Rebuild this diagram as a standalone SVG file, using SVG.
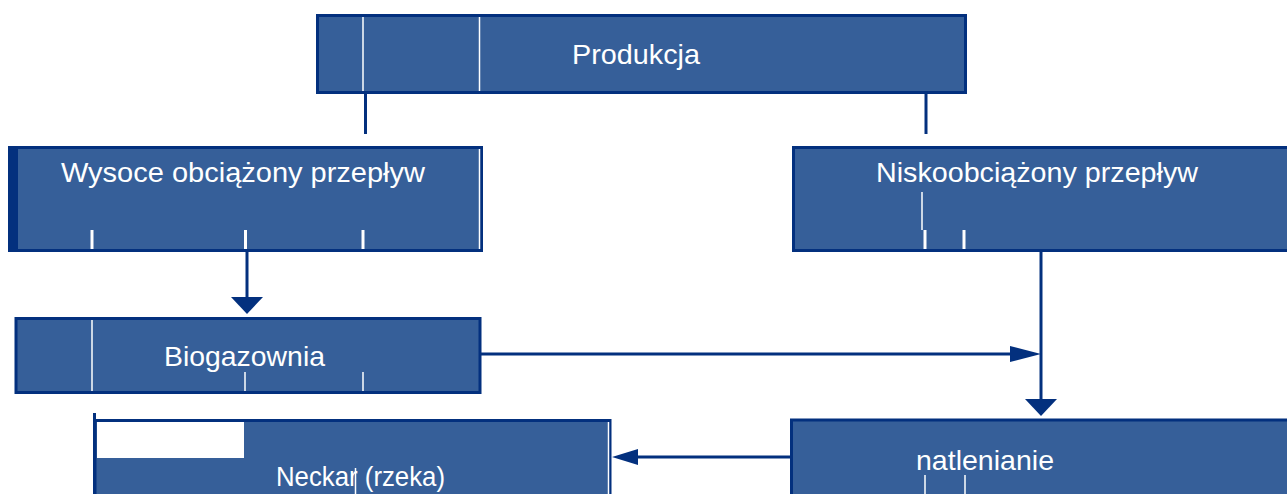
<svg xmlns="http://www.w3.org/2000/svg" width="1287" height="494" viewBox="0 0 1287 494">
<style>
.box{fill:#365F99;stroke:#03307E;stroke-width:3}
.wl{stroke:#FFFFFF;stroke-width:1.5}
.wt{stroke:#FFFFFF;stroke-width:3}
.con{stroke:#03307E;stroke-width:3;fill:none}
.head{fill:#03307E}
.lbl{font-family:"Liberation Sans",Arial,sans-serif;font-size:28px;fill:#FFFFFF}
</style>
<rect width="1287" height="494" fill="#FFFFFF"/>
<g id="node-produkcja">
<rect class="box" x="317.5" y="15.5" width="648" height="77"/>
<line class="wl" x1="363" y1="17" x2="363" y2="91"/>
<line class="wl" x1="479.5" y1="17" x2="479.5" y2="91"/>
<text class="lbl" x="572" y="64" textLength="128" lengthAdjust="spacingAndGlyphs">Produkcja</text>
</g>
<g id="node-wysoce">
<rect class="box" x="9.5" y="147.5" width="472" height="103"/>
<rect x="8" y="147" width="10" height="105" fill="#03307E"/>
<line class="wl" x1="479.5" y1="149" x2="479.5" y2="249"/>
<line class="wt" x1="92" y1="230" x2="92" y2="249"/>
<line class="wt" x1="245.5" y1="230" x2="245.5" y2="249"/>
<line class="wt" x1="363" y1="230" x2="363" y2="249"/>
<text class="lbl" x="61" y="182" textLength="364" lengthAdjust="spacingAndGlyphs">Wysoce obciążony przepływ</text>
</g>
<g id="node-nisko">
<rect class="box" x="793.5" y="147.5" width="500" height="103"/>
<line class="wl" x1="922" y1="192" x2="922" y2="230"/>
<line class="wt" x1="925" y1="230" x2="925" y2="249"/>
<line class="wt" x1="964" y1="230" x2="964" y2="249"/>
<text class="lbl" x="876" y="182" textLength="322" lengthAdjust="spacingAndGlyphs">Niskoobciążony przepływ</text>
</g>
<g id="node-biogazownia">
<rect class="box" x="16" y="318.5" width="464" height="74"/>
<line class="wl" x1="92" y1="320" x2="92" y2="391"/>
<line class="wl" x1="245" y1="372" x2="245" y2="391"/>
<line class="wl" x1="363" y1="372" x2="363" y2="391"/>
<text class="lbl" x="164" y="366" textLength="161" lengthAdjust="spacingAndGlyphs">Biogazownia</text>
</g>
<g id="node-natlenianie">
<rect class="box" x="791.5" y="420" width="500" height="80"/>
<line class="wl" x1="925" y1="475" x2="925" y2="494"/>
<line class="wl" x1="965" y1="475" x2="965" y2="494"/>
<text class="lbl" x="916" y="470" textLength="138" lengthAdjust="spacingAndGlyphs">natlenianie</text>
</g>
<g id="node-neckar">
<rect class="box" x="95" y="420.5" width="515" height="80"/>
<rect x="97" y="422" width="147" height="36" fill="#FFFFFF"/>
<line x1="94.5" y1="413" x2="94.5" y2="494" stroke="#03307E" stroke-width="3"/>
<line class="wl" x1="608.5" y1="422" x2="608.5" y2="494"/>
<line class="wl" x1="355.5" y1="468" x2="355.5" y2="494"/>
<text class="lbl" x="276" y="486" textLength="169" lengthAdjust="spacingAndGlyphs">Neckar (rzeka)</text>
</g>
<g id="connectors">
<line class="con" x1="365.5" y1="92" x2="365.5" y2="134"/>
<line class="con" x1="926" y1="92" x2="926" y2="134"/>
<line class="con" x1="247" y1="252" x2="247" y2="298"/>
<polygon class="head" points="231,297 263,297 247,314"/>
<line class="con" x1="481" y1="354" x2="1012" y2="354"/>
<polygon class="head" points="1010,346 1010,362 1041,354"/>
<line class="con" x1="1041" y1="252" x2="1041" y2="400"/>
<polygon class="head" points="1025,399 1057,399 1041,416"/>
<line class="con" x1="790" y1="457" x2="636" y2="457"/>
<polygon class="head" points="638,449 638,465 612,457"/>
</g>
</svg>
